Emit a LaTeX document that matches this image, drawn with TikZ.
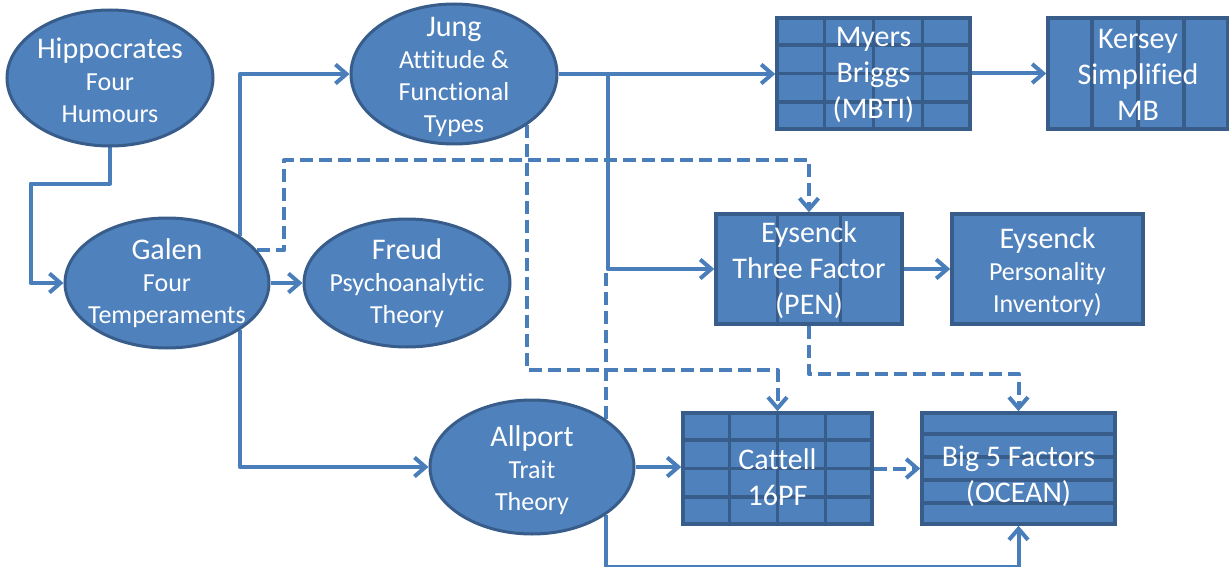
\documentclass[tikz,border=0pt]{standalone}
\usepackage{fontspec}
\setmainfont{Carlito}[Ligatures=NoCommon]
\usetikzlibrary{arrows.meta,shapes.geometric,backgrounds,calc}
\definecolor{nodefill}{HTML}{4F81BD}
\definecolor{nodeline}{HTML}{385D8A}
\definecolor{conncol}{HTML}{4A7EBB}
\newcommand{\bigtxt}{\fontsize{30}{36}\selectfont}
\newcommand{\smtxt}{\fontsize{26}{32}\selectfont}
\begin{document}
\begin{tikzpicture}[x=1pt,y=-1pt,
  ell/.style={ellipse, draw=nodeline, line width=3pt, fill=nodefill, inner sep=0pt},
  tbl/.style={rectangle, draw=nodeline, line width=3.5pt, fill=nodefill, inner sep=0pt},
  txt/.style={text=white, align=center, inner sep=0pt, font=\smtxt},
  txtb/.style={txt, font=\bigtxt},
  gridline/.style={draw=nodeline, line width=3.5pt},
  plainconn/.style={draw=conncol, line width=4pt, line join=round},
  conn/.style={plainconn, -{Straight Barb[length=11pt,width=19pt]}},
  dashc/.style={dash pattern=on 13pt off 6pt}
]
\useasboundingbox (0,0) rectangle (1229,567);

% ellipses
\node[ell, minimum width=206pt, minimum height=136pt] (hip) at (110,78) {};
\node[ell, minimum width=204pt, minimum height=130pt] (galen) at (167,283) {};
\node[ell, minimum width=206pt, minimum height=128pt] (freud) at (407,283) {};
\node[ell, minimum width=206pt, minimum height=140pt] (jung) at (454,74) {};
\node[ell, minimum width=204pt, minimum height=134pt] (allport) at (532,467) {};

% tables
\node[tbl, minimum width=193pt, minimum height=111pt] (mb) at (873.5,73.5) {};
\node[tbl, minimum width=180pt, minimum height=111pt] (ks) at (1138,73.5) {};
\node[tbl, minimum width=186pt, minimum height=110pt] (etf) at (809,269) {};
\node[tbl, minimum width=191pt, minimum height=110pt] (epi) at (1047.5,269) {};
\node[tbl, minimum width=189pt, minimum height=111pt] (cat) at (777.5,468.5) {};
\node[tbl, minimum width=193pt, minimum height=111pt] (big) at (1018.5,468.5) {};

% grids
\foreach \i in {1,2,3} {
  \draw[gridline] ($(mb.north west)!\i/4!(mb.north east)$) -- ($(mb.south west)!\i/4!(mb.south east)$);
  \draw[gridline] ($(mb.north west)!\i/4!(mb.south west)$) -- ($(mb.north east)!\i/4!(mb.south east)$);
  \draw[gridline] ($(ks.north west)!\i/4!(ks.north east)$) -- ($(ks.south west)!\i/4!(ks.south east)$);
  \draw[gridline] ($(cat.north west)!\i/4!(cat.north east)$) -- ($(cat.south west)!\i/4!(cat.south east)$);
  \draw[gridline] ($(cat.north west)!\i/4!(cat.south west)$) -- ($(cat.north east)!\i/4!(cat.south east)$);
}
\foreach \i in {1,2} {
  \draw[gridline] ($(etf.north west)!\i/3!(etf.north east)$) -- ($(etf.south west)!\i/3!(etf.south east)$);
}
\foreach \i in {1,2,3,4} {
  \draw[gridline] ($(big.north west)!\i/5!(big.south west)$) -- ($(big.north east)!\i/5!(big.south east)$);
}

% texts
\node[txt] (hip-t) at (110,80) {{\bigtxt Hippocrates}\\Four\\Humours};
\node[txt] (galen-t) at (167,283) {{\bigtxt Galen}\\Four\\Temperaments};
\node[txt] (freud-t) at (407,283) {{\bigtxt Freud}\\Psychoanalytic\\Theory};
\node[txt] (jung-t) at (454,77) {{\bigtxt Jung}\\Attitude \&\\Functional\\Types};
\node[txt] (allport-t) at (532,470) {{\bigtxt Allport}\\Trait\\Theory};
\node[txtb] (mb-t) at (873.5,75) {Myers\\Briggs\\(MBTI)};
\node[txtb] (ks-t) at (1138,75) {Kersey\\Simplified\\MB};
\node[txtb] (etf-t) at (809,270) {Eysenck\\Three Factor\\(PEN)};
\node[txt] (epi-t) at (1047.5,272) {{\bigtxt Eysenck}\\Personality\\Inventory)};
\node[txtb] (cat-t) at (777.5,477) {Cattell\\16PF};
\node[txtb] (big-t) at (1018.5,476) {Big 5 Factors\\(OCEAN)};

% connectors
\begin{scope}[on background layer]
\draw[conn] (hip.south) -- ++(0,36) -| ([xshift=-33pt]galen.west) -- (galen.west);
\draw[conn] (galen.33.5) |- (jung.west);
\draw[conn] (galen.-33.5) |- (allport.west);
\draw[conn] (galen.east) -- (freud.west);
\draw[conn,dashc] (galen.20) -- ++(27,0) |- ([yshift=52pt]etf.north) -- (etf.north);
\draw[conn] (jung.east) -- (jung.east -| mb.west);
\draw[conn] (jung.east) -- ++(49,0) |- (etf.west);
\draw[conn] (mb.east) -- (ks.west);
\draw[conn] (etf.east) -- (epi.west);
\draw[conn] (allport.east) -- (allport.east -| cat.west);
\draw[conn,dashc] (cat.east) -- (big.west);
\draw[conn,dashc] (etf.south) -- ++(0,48) -| (big.north);
\draw[conn,dashc] (jung.-35.5) |- ([yshift=41pt]cat.north) -- (cat.north);
\draw[plainconn,dashc] (allport.33.4) -- (allport.33.4 |- etf.west);
\draw[conn] (allport.-33.4) |- ([yshift=-41pt]big.south) -- (big.south);
\end{scope}
\end{tikzpicture}
\end{document}
